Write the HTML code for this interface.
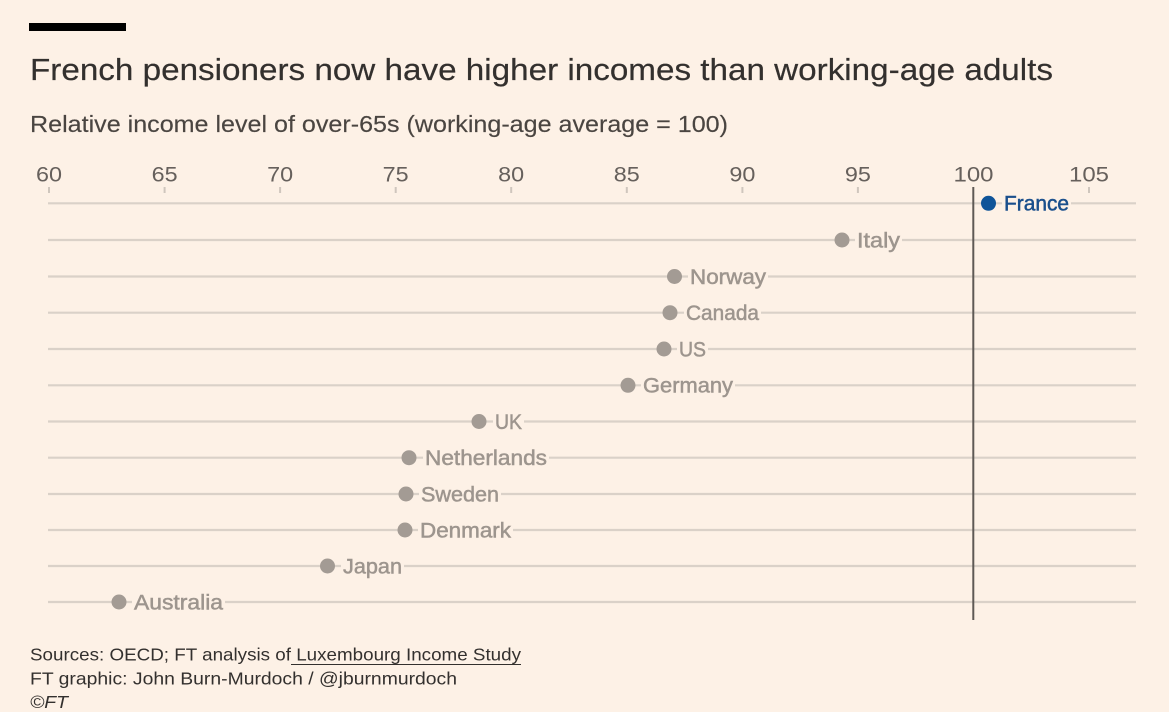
<!DOCTYPE html>
<html>
<head>
<meta charset="utf-8">
<style>
html,body{margin:0;padding:0;background:#fdf1e6;}
svg{display:block;}
text{font-family:"Liberation Sans",sans-serif;}
</style>
</head>
<body>
<svg width="1169" height="712" viewBox="0 0 1169 712" xmlns="http://www.w3.org/2000/svg">
<rect x="0" y="0" width="1169" height="712" fill="#fdf1e6"/>
<rect x="29" y="23" width="97" height="8" fill="#000"/>
<text x="30" y="80" font-size="31" fill="#33302e" stroke="#33302e" stroke-width="0.2" textLength="1023" lengthAdjust="spacingAndGlyphs">French pensioners now have higher incomes than working-age adults</text>
<text x="30" y="132" font-size="23" fill="#4a4541" stroke="#4a4541" stroke-width="0.15" textLength="698" lengthAdjust="spacingAndGlyphs">Relative income level of over-65s (working-age average = 100)</text>

<g font-size="21" fill="#66605c" text-anchor="middle">
<text x="49" y="181.5" textLength="26" lengthAdjust="spacingAndGlyphs">60</text>
<text x="164.6" y="181.5" textLength="26" lengthAdjust="spacingAndGlyphs">65</text>
<text x="280.1" y="181.5" textLength="26" lengthAdjust="spacingAndGlyphs">70</text>
<text x="395.7" y="181.5" textLength="26" lengthAdjust="spacingAndGlyphs">75</text>
<text x="511.2" y="181.5" textLength="26" lengthAdjust="spacingAndGlyphs">80</text>
<text x="626.8" y="181.5" textLength="26" lengthAdjust="spacingAndGlyphs">85</text>
<text x="742.4" y="181.5" textLength="26" lengthAdjust="spacingAndGlyphs">90</text>
<text x="857.9" y="181.5" textLength="26" lengthAdjust="spacingAndGlyphs">95</text>
<text x="973.5" y="181.5" textLength="40" lengthAdjust="spacingAndGlyphs">100</text>
<text x="1089" y="181.5" textLength="40" lengthAdjust="spacingAndGlyphs">105</text>
</g>
<g stroke="#cfc6bd" stroke-width="2">
<line x1="49" y1="187" x2="49" y2="193"/>
<line x1="164.6" y1="187" x2="164.6" y2="193"/>
<line x1="280.1" y1="187" x2="280.1" y2="193"/>
<line x1="395.7" y1="187" x2="395.7" y2="193"/>
<line x1="511.2" y1="187" x2="511.2" y2="193"/>
<line x1="626.8" y1="187" x2="626.8" y2="193"/>
<line x1="742.4" y1="187" x2="742.4" y2="193"/>
<line x1="857.9" y1="187" x2="857.9" y2="193"/>
<line x1="1089" y1="187" x2="1089" y2="193"/>
</g>

<g stroke="#dad1c8" stroke-width="2.2">
<line x1="48" y1="203.3" x2="1136" y2="203.3"/>
<line x1="48" y1="240" x2="1136" y2="240"/>
<line x1="48" y1="276.5" x2="1136" y2="276.5"/>
<line x1="48" y1="312.7" x2="1136" y2="312.7"/>
<line x1="48" y1="349" x2="1136" y2="349"/>
<line x1="48" y1="385.3" x2="1136" y2="385.3"/>
<line x1="48" y1="421.5" x2="1136" y2="421.5"/>
<line x1="48" y1="457.7" x2="1136" y2="457.7"/>
<line x1="48" y1="494" x2="1136" y2="494"/>
<line x1="48" y1="530" x2="1136" y2="530"/>
<line x1="48" y1="566" x2="1136" y2="566"/>
<line x1="48" y1="602" x2="1136" y2="602"/>
</g>

<line x1="973.3" y1="187" x2="973.3" y2="620" stroke="#5e5955" stroke-width="2"/>

<g fill="#fdf1e6">
<rect x="1002" y="192" width="69" height="22"/>
<rect x="855" y="229" width="47" height="22"/>
<rect x="688" y="265" width="80" height="22"/>
<rect x="684" y="301" width="77" height="22"/>
<rect x="677" y="338" width="31" height="22"/>
<rect x="641" y="374" width="94" height="22"/>
<rect x="493" y="410" width="31" height="22"/>
<rect x="423" y="446" width="126" height="22"/>
<rect x="419" y="483" width="82" height="22"/>
<rect x="418" y="519" width="95" height="22"/>
<rect x="341" y="555" width="63" height="22"/>
<rect x="132" y="591" width="93" height="22"/>
</g>

<circle cx="988.5" cy="203.3" r="7.5" fill="#0f5499"/>
<text x="1004" y="210.6" font-size="21" fill="#1a4f8c" stroke="#1a4f8c" stroke-width="0.5" textLength="65" lengthAdjust="spacingAndGlyphs">France</text>

<g fill="#a39b94">
<circle cx="842" cy="240" r="7.5"/>
<circle cx="674.5" cy="276.5" r="7.5"/>
<circle cx="670" cy="312.7" r="7.5"/>
<circle cx="664" cy="349" r="7.5"/>
<circle cx="628" cy="385.3" r="7.5"/>
<circle cx="479" cy="421.5" r="7.5"/>
<circle cx="409" cy="457.7" r="7.5"/>
<circle cx="406" cy="494" r="7.5"/>
<circle cx="405" cy="530" r="7.5"/>
<circle cx="327.5" cy="566" r="7.5"/>
<circle cx="119" cy="602" r="7.5"/>
</g>
<g font-size="21" fill="#9d958e" stroke="#9d958e" stroke-width="0.5">
<text x="857" y="247.3" textLength="43" lengthAdjust="spacingAndGlyphs">Italy</text>
<text x="690" y="283.8" textLength="76" lengthAdjust="spacingAndGlyphs">Norway</text>
<text x="686" y="320" textLength="73" lengthAdjust="spacingAndGlyphs">Canada</text>
<text x="679" y="356.3" textLength="27" lengthAdjust="spacingAndGlyphs">US</text>
<text x="643" y="392.6" textLength="90" lengthAdjust="spacingAndGlyphs">Germany</text>
<text x="495" y="428.8" textLength="27" lengthAdjust="spacingAndGlyphs">UK</text>
<text x="425" y="465" textLength="122" lengthAdjust="spacingAndGlyphs">Netherlands</text>
<text x="421" y="501.3" textLength="78" lengthAdjust="spacingAndGlyphs">Sweden</text>
<text x="420" y="537.3" textLength="91" lengthAdjust="spacingAndGlyphs">Denmark</text>
<text x="343" y="573.3" textLength="59" lengthAdjust="spacingAndGlyphs">Japan</text>
<text x="134" y="609.3" textLength="89" lengthAdjust="spacingAndGlyphs">Australia</text>
</g>

<g font-size="17.5" fill="#33302e">
<text x="30" y="660.7" textLength="491" lengthAdjust="spacingAndGlyphs">Sources: OECD; FT analysis of Luxembourg Income Study</text>
<text x="30" y="684.7" textLength="427" lengthAdjust="spacingAndGlyphs">FT graphic: John Burn-Murdoch / @jburnmurdoch</text>
<text x="30" y="708" font-style="italic" textLength="38" lengthAdjust="spacingAndGlyphs">©FT</text>
</g>
<line x1="291" y1="664.5" x2="521" y2="664.5" stroke="#33302e" stroke-width="1"/>
</svg>
</body>
</html>
